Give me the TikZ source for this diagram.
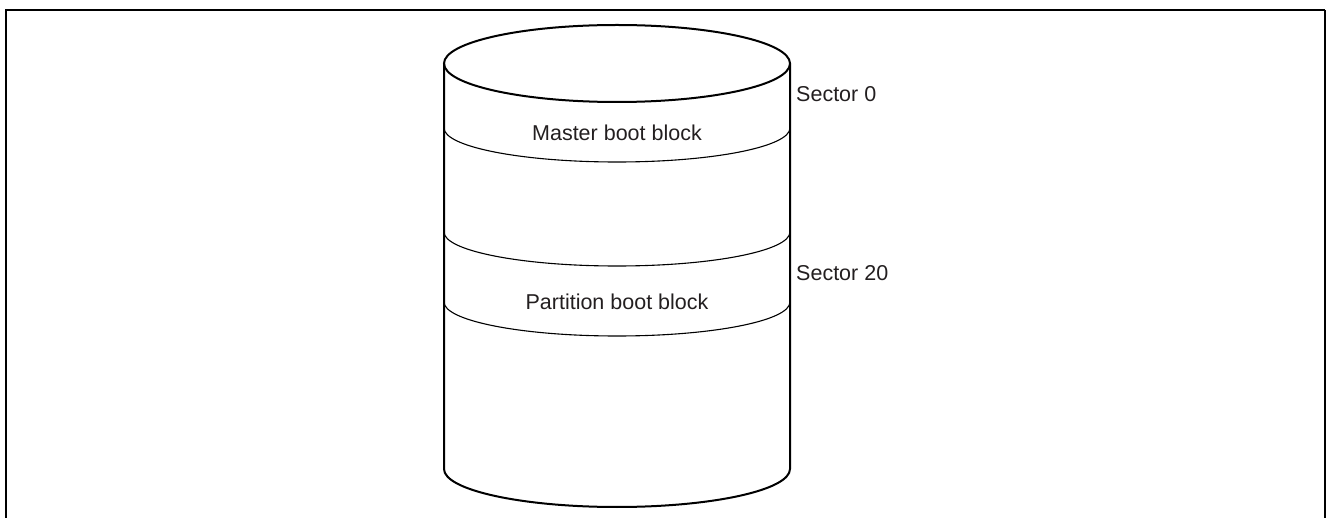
\documentclass[tikz,border=0pt]{standalone}
\usepackage{fontspec}
\setmainfont{Liberation Sans}
\definecolor{txt}{HTML}{231F20}
\begin{document}
\begin{tikzpicture}[x=1pt,y=-1pt,
  outer/.style={line width=2pt,black},
  band/.style={line width=1.1pt,black},
  frameline/.style={line width=2.5pt,black},
  lbl/.style={inner sep=0pt,text=txt,font=\fontsize{21.5}{25}\selectfont}]
\useasboundingbox (0,0) rectangle (1326,518);
% frame (open at bottom)
\draw[frameline] (6,518) -- (6,10) -- (1325,10);
\draw[line width=1.5pt] (1325,10) -- (1325,518);
% cylinder
\draw[outer] (617,63.5) ellipse [x radius=173, y radius=38.5];
\draw[outer] (444,63.5) -- (444,469) arc[start angle=180,end angle=0,x radius=173,y radius=38] -- (790,63.5);
% band arcs
\draw[band] (444,128) arc[start angle=180,end angle=0,x radius=173,y radius=34];
\draw[band] (444,232) arc[start angle=180,end angle=0,x radius=173,y radius=34];
\draw[band] (444,302) arc[start angle=180,end angle=0,x radius=173,y radius=34];
% labels
\node[lbl] (mbb) at (617,132.5) {Master boot block};
\node[lbl] (pbb) at (617,302) {Partition boot block};
\node[lbl,anchor=west] (s0) at (796,94.5) {Sector 0};
\node[lbl,anchor=west] (s20) at (796,273) {Sector 20};
\end{tikzpicture}
\end{document}
